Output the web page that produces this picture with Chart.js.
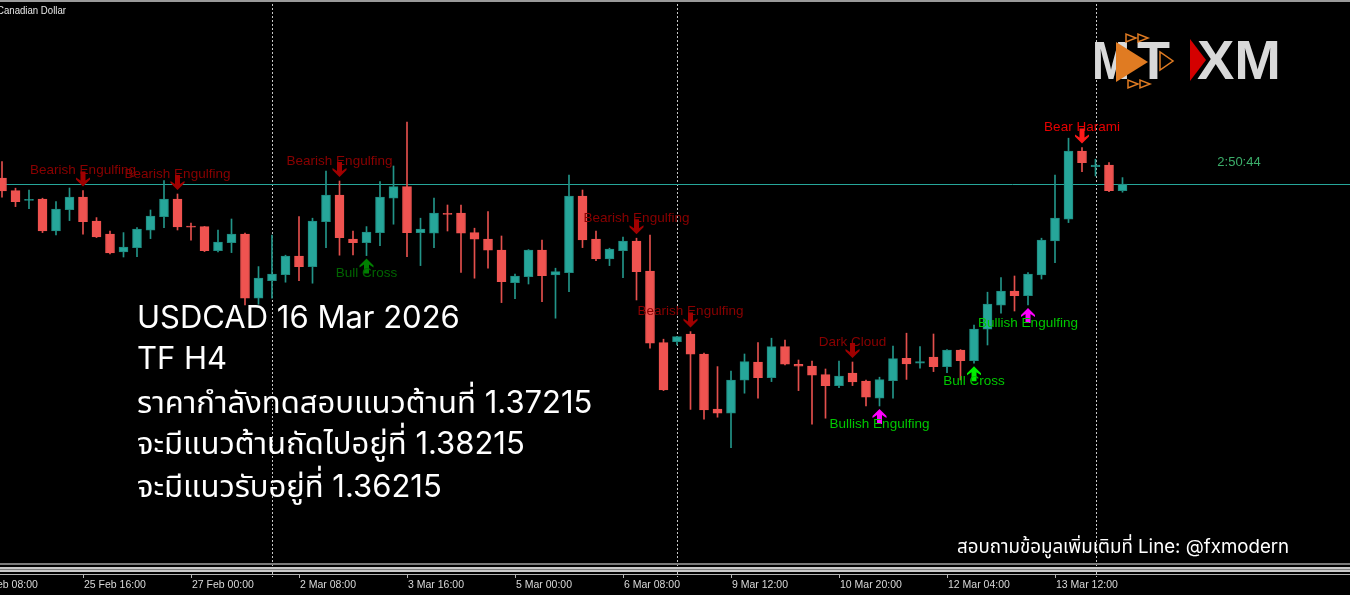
<!DOCTYPE html>
<html>
<head>
<meta charset="utf-8">
<title>USDCAD H4</title>
<script src="https://cdn.jsdelivr.net/npm/chart.js@4.4.1/dist/chart.umd.min.js"></script>
<style>
html, body { margin: 0; padding: 0; background: #000; overflow: hidden; }
canvas { display: block; }
</style>
</head>
<body>
<canvas id="usdcadChart" width="1350" height="595"></canvas>
<script>
// H4 bars, 24 Feb 16:00 -> 16 Mar 04:00 (server time)
const H = ['00:00', '04:00', '08:00', '12:00', '16:00', '20:00'];
const fullDay = d => H.map(h => d + ' ' + h);
const barTimes = [
    '24 Feb 16:00', '24 Feb 20:00',
    ...fullDay('25 Feb'), ...fullDay('26 Feb'), ...fullDay('27 Feb'),
    ...fullDay('2 Mar'), ...fullDay('3 Mar'), ...fullDay('4 Mar'), ...fullDay('5 Mar'), ...fullDay('6 Mar'),
    '8 Mar 20:00',
    ...fullDay('9 Mar'), ...fullDay('10 Mar'), ...fullDay('11 Mar'), ...fullDay('12 Mar'), ...fullDay('13 Mar'),
    '15 Mar 20:00', '16 Mar 00:00', '16 Mar 04:00'
];

// OHLC
const opens = [
    1.37244, 1.37182, 1.37133, 1.37140, 1.36980, 1.37087, 1.37149, 1.37030, 1.36964, 1.36875,
    1.36897, 1.36984, 1.37052, 1.37140, 1.37004, 1.37002, 1.36882, 1.36922, 1.36964, 1.36644,
    1.36732, 1.36762, 1.36855, 1.36802, 1.37027, 1.37160, 1.36939, 1.36922, 1.36972, 1.37144,
    1.37202, 1.36972, 1.36969, 1.37068, 1.37069, 1.36972, 1.36940, 1.36885, 1.36722, 1.36752,
    1.36885, 1.36760, 1.36772, 1.37155, 1.36940, 1.36840, 1.36882, 1.36930, 1.36780, 1.36422,
    1.36427, 1.36465, 1.36364, 1.36090, 1.36069, 1.36234, 1.36325, 1.36247, 1.36402, 1.36313,
    1.36305, 1.36262, 1.36207, 1.36270, 1.36230, 1.36144, 1.36232, 1.36343, 1.36319, 1.36349,
    1.36302, 1.36385, 1.36332, 1.36489, 1.36609, 1.36680, 1.36657, 1.36760, 1.36930, 1.37039,
    1.37380, 1.37302, 1.37309, 1.37182
];
const highs = [
    1.37327, 1.37194, 1.37185, 1.37144, 1.37127, 1.37195, 1.37182, 1.37047, 1.36980, 1.36972,
    1.36997, 1.37085, 1.37232, 1.37165, 1.37019, 1.37003, 1.36985, 1.37040, 1.36969, 1.36802,
    1.36960, 1.36859, 1.37052, 1.37044, 1.37280, 1.37230, 1.36980, 1.37002, 1.37227, 1.37305,
    1.37524, 1.37044, 1.37144, 1.37110, 1.37110, 1.36994, 1.37077, 1.36955, 1.36764, 1.36887,
    1.36935, 1.36794, 1.37260, 1.37185, 1.36980, 1.36894, 1.36949, 1.36944, 1.36960, 1.36439,
    1.36453, 1.36477, 1.36369, 1.36302, 1.36280, 1.36365, 1.36422, 1.36444, 1.36435, 1.36335,
    1.36330, 1.36290, 1.36330, 1.36325, 1.36235, 1.36249, 1.36405, 1.36469, 1.36402, 1.36465,
    1.36387, 1.36387, 1.36510, 1.36674, 1.36747, 1.36755, 1.36772, 1.36944, 1.37259, 1.37444,
    1.37397, 1.37339, 1.37322, 1.37247
];
const lows = [
    1.37149, 1.37102, 1.37092, 1.36972, 1.36960, 1.37032, 1.36964, 1.36947, 1.36865, 1.36850,
    1.36852, 1.36942, 1.36997, 1.36985, 1.36934, 1.36877, 1.36875, 1.36872, 1.36610, 1.36614,
    1.36644, 1.36724, 1.36732, 1.36719, 1.36897, 1.36859, 1.36860, 1.36857, 1.36907, 1.37014,
    1.36852, 1.36807, 1.36897, 1.36980, 1.36773, 1.36744, 1.36794, 1.36622, 1.36642, 1.36715,
    1.36627, 1.36544, 1.36677, 1.36897, 1.36832, 1.36807, 1.36747, 1.36635, 1.36394, 1.36182,
    1.36410, 1.36088, 1.36039, 1.36049, 1.35897, 1.36169, 1.36144, 1.36227, 1.36310, 1.36182,
    1.36014, 1.36044, 1.36197, 1.36207, 1.36105, 1.36105, 1.36144, 1.36238, 1.36294, 1.36277,
    1.36272, 1.36235, 1.36319, 1.36410, 1.36569, 1.36580, 1.36610, 1.36740, 1.36822, 1.37022,
    1.37277, 1.37255, 1.37177, 1.37174
];
const closes = [
    1.37180, 1.37127, 1.37136, 1.36980, 1.37089, 1.37149, 1.37027, 1.36950, 1.36870, 1.36900,
    1.36990, 1.37055, 1.37140, 1.37000, 1.36999, 1.36882, 1.36925, 1.36964, 1.36644, 1.36744,
    1.36765, 1.36855, 1.36802, 1.37030, 1.37160, 1.36947, 1.36922, 1.36975, 1.37149, 1.37202,
    1.36972, 1.36989, 1.37069, 1.37063, 1.36969, 1.36939, 1.36884, 1.36727, 1.36755, 1.36885,
    1.36757, 1.36777, 1.37155, 1.36935, 1.36840, 1.36890, 1.36930, 1.36777, 1.36419, 1.36185,
    1.36452, 1.36364, 1.36085, 1.36069, 1.36235, 1.36327, 1.36247, 1.36402, 1.36314, 1.36304,
    1.36259, 1.36207, 1.36254, 1.36225, 1.36149, 1.36237, 1.36342, 1.36315, 1.36327, 1.36302,
    1.36385, 1.36332, 1.36490, 1.36615, 1.36679, 1.36657, 1.36764, 1.36934, 1.37044, 1.37380,
    1.37322, 1.37309, 1.37182, 1.37215
];

// time axis labels (bar index -> label)
const tickIdx = [-2, 6, 14, 22, 30, 38, 46, 54, 62, 70, 78];
const tickLabels = ['24 Feb 08:00', '25 Feb 16:00', '27 Feb 00:00', '2 Mar 08:00', '3 Mar 16:00',
    '5 Mar 00:00', '6 Mar 08:00', '9 Mar 12:00', '10 Mar 20:00', '12 Mar 04:00', '13 Mar 12:00'];
const weekStartIdx = [20, 50, 81];

// candle pattern signals
const sigIdx = [6, 13, 25, 27, 47, 51, 63, 65, 72, 76, 80];
const sigText = ['Bearish Engulfing', 'Bearish Engulfing', 'Bearish Engulfing', 'Bull Cross',
    'Bearish Engulfing', 'Bearish Engulfing', 'Dark Cloud', 'Bullish Engulfing', 'Bull Cross',
    'Bullish Engulfing', 'Bear Harami'];
const sigDir = [-1, -1, -1, 1, -1, -1, -1, 1, 1, 1, -1];
const sigTextColor = ['#8b0000', '#8b0000', '#8b0000', '#006400', '#8b0000', '#8b0000', '#8b0000',
    '#00c800', '#00c800', '#00c800', '#e80000'];
const sigArrowColor = ['#a00000', '#a00000', '#a00000', '#008000', '#a00000', '#a00000', '#a00000',
    '#ff00ff', '#00ee00', '#ff00ff', '#ff1a1a'];

const noteLines = [
    'USDCAD 16 Mar 2026',
    'TF H4',
    'ราคากำลังทดสอบแนวต้านที่ 1.37215',
    'จะมีแนวต้านถัดไปอยู่ที่ 1.38215',
    'จะมีแนวรับอยู่ที่ 1.36215'
];
const footNote = 'สอบถามข้อมูลเพิ่มเติมที่ Line: @fxmodern';

const BULL = '#26a69a', BEAR = '#ef5350';
const isUp = closes.map((c, i) => c >= opens[i]);

// 13.5px per bar, bar 0 at x=2; 1px = 0.00005 price
const xMin = -2 / 13.5, xMax = 1348 / 13.5;
const yMin = 1.35320, yMax = 1.38135;

// thick wingdings-like arrow, tip at (x, tipY)
function drawArrow(ctx, x, tipY, dir, color) {
    const s = dir < 0 ? 1 : -1;
    ctx.fillStyle = color;
    ctx.beginPath();
    ctx.moveTo(x, tipY);
    ctx.lineTo(x + 7, tipY - s * 7);
    ctx.lineTo(x + 7, tipY - s * 9);
    ctx.lineTo(x + 2.5, tipY - s * 6);
    ctx.lineTo(x + 2.5, tipY - s * 15);
    ctx.lineTo(x - 2.5, tipY - s * 15);
    ctx.lineTo(x - 2.5, tipY - s * 6);
    ctx.lineTo(x - 7, tipY - s * 9);
    ctx.lineTo(x - 7, tipY - s * 7);
    ctx.closePath();
    ctx.fill();
}

function tri(ctx, pts, fill, stroke) {
    ctx.beginPath();
    ctx.moveTo(pts[0], pts[1]);
    ctx.lineTo(pts[2], pts[3]);
    ctx.lineTo(pts[4], pts[5]);
    ctx.closePath();
    if (fill) { ctx.fillStyle = fill; ctx.fill(); }
    if (stroke) { ctx.strokeStyle = stroke; ctx.lineWidth = 1.5; ctx.stroke(); }
}

const mtPlugin = {
    id: 'mtPlugin',
    beforeDraw(chart) {
        const ctx = chart.ctx;
        ctx.save();
        ctx.fillStyle = '#000';
        ctx.fillRect(0, 0, chart.width, chart.height);
        ctx.restore();
    },
    beforeDatasetsDraw(chart) {
        const ctx = chart.ctx, xs = chart.scales.x, ys = chart.scales.y;
        ctx.save();
        // week separators
        ctx.strokeStyle = '#c8c8c8';
        ctx.lineWidth = 1;
        ctx.setLineDash([2, 2]);
        weekStartIdx.forEach(i => {
            const x = Math.round(xs.getPixelForValue(i)) + 0.5;
            ctx.beginPath();
            ctx.moveTo(x, 0);
            ctx.lineTo(x, 577);
            ctx.stroke();
        });
        ctx.setLineDash([]);
        // bid line
        const by = Math.round(ys.getPixelForValue(closes[closes.length - 1])) + 0.5;
        ctx.strokeStyle = '#26a69a';
        ctx.beginPath();
        ctx.moveTo(0, by);
        ctx.lineTo(chart.width, by);
        ctx.stroke();
        ctx.restore();
    },
    afterDraw(chart) {
        const ctx = chart.ctx, xs = chart.scales.x, ys = chart.scales.y;
        ctx.save();

        // top border + symbol name
        ctx.fillStyle = '#9a9a9a';
        ctx.fillRect(0, 0, chart.width, 2);
        ctx.fillStyle = '#e6e6e6';
        ctx.font = '11px "Liberation Sans", Arial, sans-serif';
        ctx.textAlign = 'left';
        ctx.textBaseline = 'alphabetic';
        ctx.fillText('Canadian Dollar', -3, 14, 69);

        // signals
        ctx.font = '13.5px "Liberation Sans", Arial, sans-serif';
        ctx.textAlign = 'center';
        ctx.textBaseline = 'middle';
        sigIdx.forEach((bi, k) => {
            const x = xs.getPixelForValue(bi);
            if (sigDir[k] < 0) {
                const yh = ys.getPixelForValue(highs[bi]);
                ctx.fillStyle = sigTextColor[k];
                ctx.fillText(sigText[k], x, yh - 20);
                drawArrow(ctx, x, yh - 4, -1, sigArrowColor[k]);
            } else {
                const yl = ys.getPixelForValue(lows[bi]);
                drawArrow(ctx, x, yl + 3, 1, sigArrowColor[k]);
                ctx.fillStyle = sigTextColor[k];
                ctx.fillText(sigText[k], x, yl + 18);
            }
        });

        // countdown
        ctx.fillStyle = '#3cae6a';
        ctx.font = '13px "Liberation Sans", Arial, sans-serif';
        ctx.fillText('2:50:44', 1239, 162);

        // analysis notes
        ctx.fillStyle = '#ffffff';
        ctx.textAlign = 'left';
        ctx.textBaseline = 'alphabetic';
        ctx.font = '31px Inter, "Noto Sans", "Noto Sans Thai", sans-serif';
        const lineY = [328, 369, 413, 454, 497];
        noteLines.forEach((t, i) => ctx.fillText(t, 137, lineY[i]));
        ctx.font = '18.7px Inter, "Noto Sans", "Noto Sans Thai", sans-serif';
        ctx.fillText(footNote, 957, 553);

        // logo
        ctx.fillStyle = '#d9d9d9';
        ctx.font = 'bold 54px "Liberation Sans", Arial, sans-serif';
        ctx.fillText('M', 1092, 79, 38);
        tri(ctx, [1116, 42, 1116, 82, 1148, 62], '#e07b22');
        ctx.fillStyle = '#d9d9d9';
        ctx.fillText('T', 1137, 79, 34);
        tri(ctx, [1126, 34, 1126, 42, 1136, 38], null, '#e07b22');
        tri(ctx, [1138, 34, 1138, 42, 1148, 38], null, '#e07b22');
        tri(ctx, [1160, 52, 1160, 70, 1173, 61], null, '#e07b22');
        tri(ctx, [1128, 80, 1128, 88, 1138, 84], null, '#e07b22');
        tri(ctx, [1140, 80, 1140, 88, 1150, 84], null, '#e07b22');
        ctx.fillStyle = '#d9d9d9';
        ctx.font = 'bold 56px "Liberation Sans", Arial, sans-serif';
        ctx.fillText('XM', 1197, 79, 89);
        tri(ctx, [1190, 39, 1190, 81, 1206, 60], '#d40000');

        // time axis
        ctx.fillStyle = '#7a7a7a';
        ctx.fillRect(0, 563, chart.width, 2);
        ctx.fillStyle = '#c8c8c8';
        ctx.fillRect(0, 567, chart.width, 5);
        ctx.fillStyle = '#7a7a7a';
        ctx.fillRect(0, 569, chart.width, 1);
        ctx.fillStyle = '#b4b4b4';
        ctx.fillRect(0, 574, chart.width, 1);
        ctx.font = '10.5px "Liberation Sans", Arial, sans-serif';
        ctx.textBaseline = 'alphabetic';
        tickIdx.forEach((bi, k) => {
            const x = Math.round(xs.getPixelForValue(bi));
            ctx.fillStyle = '#b4b4b4';
            ctx.fillRect(x, 575, 1, 3);
            ctx.fillStyle = '#d8d8d8';
            ctx.fillText(tickLabels[k], x + 1, 588);
        });
        ctx.restore();
    }
};

const wickData = barTimes.map((t, i) => ({ x: i, y: [lows[i], highs[i]] }));
const bodyData = barTimes.map((t, i) => ({ x: i, y: [opens[i], closes[i]] }));

const usdcadChart = new Chart(
    document.getElementById('usdcadChart'),
    {
        type: 'bar',
        data: {
            datasets: [{
                label: 'wick',
                data: wickData,
                backgroundColor: isUp.map(u => u ? '#229488' : '#e34f4c'),
                barThickness: 1,
                grouped: false,
                order: 2
            }, {
                label: 'body',
                data: bodyData,
                backgroundColor: isUp.map(u => u ? BULL : BEAR),
                borderColor: isUp.map(u => u ? '#1f8a80' : BEAR),
                borderWidth: 1,
                borderSkipped: false,
                barThickness: 9,
                minBarLength: 1,
                grouped: false,
                order: 1
            }]
        },
        options: {
            responsive: false,
            animation: false,
            devicePixelRatio: 1,
            layout: { padding: { top: 0, left: 0, right: 0, bottom: 32 } },
            plugins: {
                legend: { display: false },
                tooltip: { enabled: false }
            },
            scales: {
                x: { type: 'linear', min: xMin, max: xMax, offset: false, display: false },
                y: { min: yMin, max: yMax, display: false }
            }
        },
        plugins: [mtPlugin]
    }
);
</script>
</body>
</html>
